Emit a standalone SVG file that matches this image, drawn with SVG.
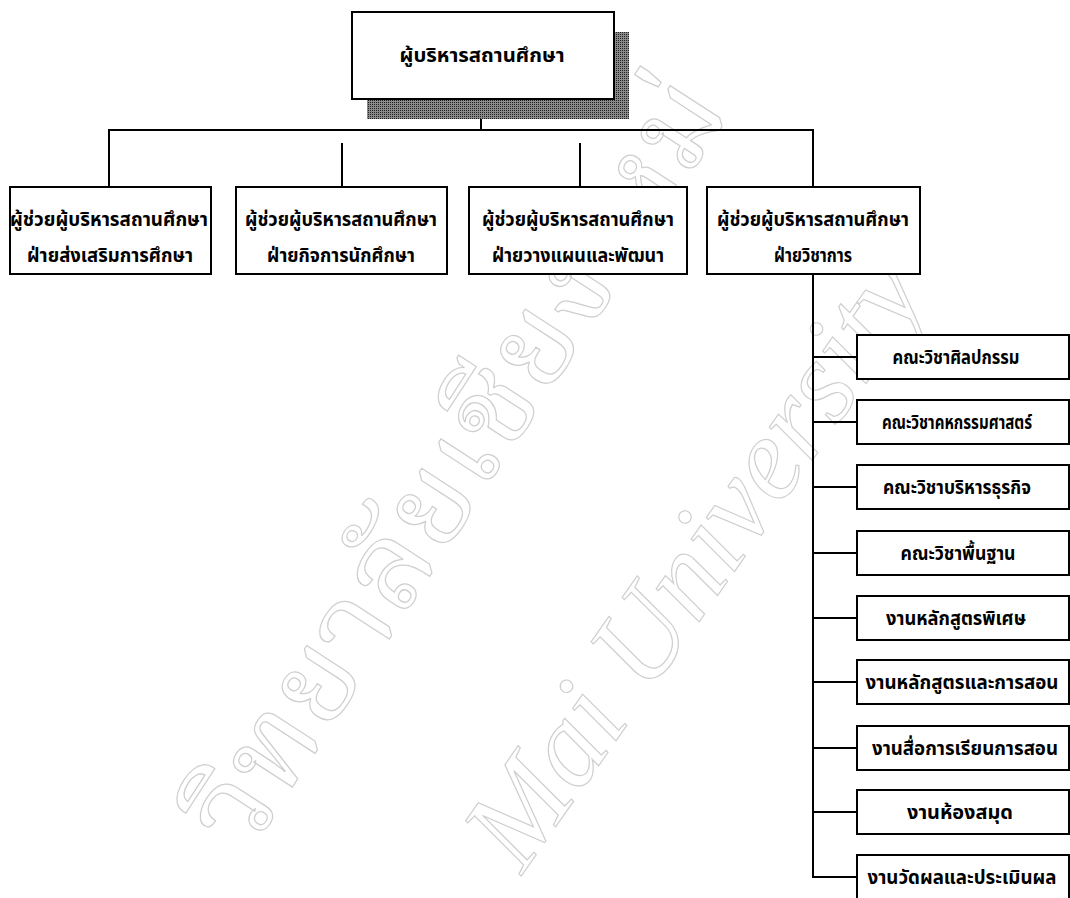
<svg xmlns="http://www.w3.org/2000/svg" width="1070" height="898" viewBox="0 0 1070 898">
<defs>
<pattern id="halftone" width="2" height="2" patternUnits="userSpaceOnUse"><rect width="2" height="2" fill="#8a8a8a"/><rect width="1" height="1" fill="#202020"/></pattern>
</defs>
<style>
.box{fill:#fff;stroke:#000;stroke-width:2}
.t{font-family:"Noto Sans Thai","Noto Serif Thai","Tlwg Typo","Garuda","Loma","Norasi","Liberation Sans",sans-serif;font-weight:bold;font-size:19px;fill:#000;text-anchor:middle}
.ln{stroke:#000;stroke-width:2;fill:none}
.wm{fill:none;stroke:#cfcfcf;stroke-width:1.2}
.wmt{font-family:"Noto Serif Thai","Noto Sans Thai","Norasi","Liberation Serif",serif;font-size:118px}
.wme{font-family:"Liberation Serif",serif;font-style:italic;font-size:118px}
</style>
<rect width="1070" height="898" fill="#fff"/>
<g id="watermark">
<text class="wm wmt" transform="translate(247,857) rotate(-57)" textLength="890" lengthAdjust="spacingAndGlyphs">วิทยาลัยเชียงใหม่</text>
<text class="wm wme" transform="translate(522,875) rotate(-55)">Mai University</text>
</g>
<g id="connectors">
<line class="ln" x1="481" y1="99" x2="481" y2="130"/>
<line class="ln" x1="108" y1="130" x2="814" y2="130"/>
<line class="ln" x1="109" y1="130" x2="109" y2="187"/>
<line class="ln" x1="342" y1="143" x2="342" y2="187"/>
<line class="ln" x1="580" y1="143" x2="580" y2="187"/>
<line class="ln" x1="813" y1="130" x2="813" y2="187"/>
<line class="ln" x1="813" y1="274" x2="813" y2="878"/>
<line class="ln" x1="813" y1="357" x2="857" y2="357"/>
<line class="ln" x1="813" y1="422" x2="857" y2="422"/>
<line class="ln" x1="813" y1="487" x2="857" y2="487"/>
<line class="ln" x1="813" y1="553" x2="857" y2="553"/>
<line class="ln" x1="813" y1="618" x2="857" y2="618"/>
<line class="ln" x1="813" y1="682" x2="857" y2="682"/>
<line class="ln" x1="813" y1="748" x2="857" y2="748"/>
<line class="ln" x1="813" y1="812" x2="857" y2="812"/>
<line class="ln" x1="812" y1="877" x2="857" y2="877"/>
</g>
<g id="n-director">
<rect x="367" y="32" width="262" height="87" fill="url(#halftone)"/>
<rect class="box" x="352" y="12" width="262" height="87"/>
<text class="t" x="482" y="62" textLength="165" lengthAdjust="spacingAndGlyphs">ผู้บริหารสถานศึกษา</text>
</g>
<g id="n-promote">
<rect class="box" x="10" y="187" width="201" height="87"/>
<text class="t" x="109" y="226" textLength="198" lengthAdjust="spacingAndGlyphs">ผู้ช่วยผู้บริหารสถานศึกษา</text>
<text class="t" x="110" y="262" textLength="166" lengthAdjust="spacingAndGlyphs">ฝ่ายส่งเสริมการศึกษา</text>
</g>
<g id="n-student">
<rect class="box" x="236" y="187" width="211" height="87"/>
<text class="t" x="341" y="226" textLength="192" lengthAdjust="spacingAndGlyphs">ผู้ช่วยผู้บริหารสถานศึกษา</text>
<text class="t" x="341" y="262" textLength="148" lengthAdjust="spacingAndGlyphs">ฝ่ายกิจการนักศึกษา</text>
</g>
<g id="n-plan">
<rect class="box" x="469" y="187" width="218" height="87"/>
<text class="t" x="578" y="226" textLength="192" lengthAdjust="spacingAndGlyphs">ผู้ช่วยผู้บริหารสถานศึกษา</text>
<text class="t" x="578" y="262" textLength="172" lengthAdjust="spacingAndGlyphs">ฝ่ายวางแผนและพัฒนา</text>
</g>
<g id="n-academic">
<rect class="box" x="707" y="187" width="213" height="87"/>
<text class="t" x="813" y="226" textLength="192" lengthAdjust="spacingAndGlyphs">ผู้ช่วยผู้บริหารสถานศึกษา</text>
<text class="t" x="813" y="262" textLength="78" lengthAdjust="spacingAndGlyphs">ฝ่ายวิชาการ</text>
</g>
<g id="n-arts"><rect class="box" x="857" y="335" width="212" height="44"/><text class="t" x="956" y="364" textLength="127" lengthAdjust="spacingAndGlyphs">คณะวิชาศิลปกรรม</text></g>
<g id="n-home"><rect class="box" x="857" y="400" width="212" height="44"/><text class="t" x="957" y="429" textLength="150" lengthAdjust="spacingAndGlyphs">คณะวิชาคหกรรมศาสตร์</text></g>
<g id="n-business"><rect class="box" x="857" y="465" width="212" height="44"/><text class="t" x="957" y="494" textLength="148" lengthAdjust="spacingAndGlyphs">คณะวิชาบริหารธุรกิจ</text></g>
<g id="n-basic"><rect class="box" x="857" y="531" width="212" height="44"/><text class="t" x="958" y="560" textLength="115" lengthAdjust="spacingAndGlyphs">คณะวิชาพื้นฐาน</text></g>
<g id="n-special"><rect class="box" x="857" y="596" width="212" height="44"/><text class="t" x="956" y="625" textLength="140" lengthAdjust="spacingAndGlyphs">งานหลักสูตรพิเศษ</text></g>
<g id="n-curriculum"><rect class="box" x="857" y="660" width="212" height="44"/><text class="t" x="962" y="689" textLength="193" lengthAdjust="spacingAndGlyphs">งานหลักสูตรและการสอน</text></g>
<g id="n-media"><rect class="box" x="857" y="726" width="212" height="44"/><text class="t" x="965" y="755" textLength="186" lengthAdjust="spacingAndGlyphs">งานสื่อการเรียนการสอน</text></g>
<g id="n-library"><rect class="box" x="857" y="790" width="212" height="44"/><text class="t" x="960" y="819" textLength="106" lengthAdjust="spacingAndGlyphs">งานห้องสมุด</text></g>
<g id="n-eval"><rect class="box" x="857" y="855" width="212" height="44"/><text class="t" x="962" y="884" textLength="189" lengthAdjust="spacingAndGlyphs">งานวัดผลและประเมินผล</text></g>
</svg>
